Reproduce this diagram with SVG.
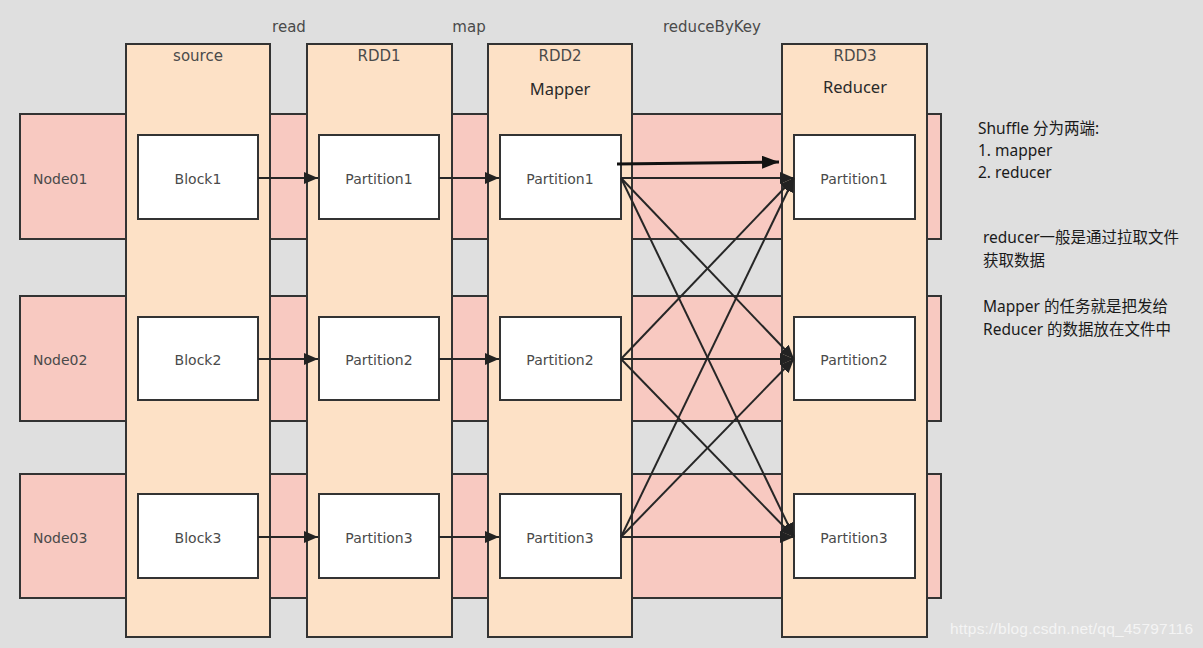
<svg xmlns="http://www.w3.org/2000/svg" width="1203" height="648" viewBox="0 0 1203 648">
<defs>
<style>
.row{fill:#f8c9c1;stroke:#333;stroke-width:2}
.col{fill:#fde1c6;stroke:#333;stroke-width:2}
.box{fill:#fff;stroke:#333;stroke-width:2}
.lbl{font-family:"DejaVu Sans",Verdana,sans-serif;font-size:14px;fill:#4a4a4a}
.ttl{font-family:"DejaVu Sans",Verdana,sans-serif;font-size:15px;fill:#4a4a4a;text-anchor:middle}
.big{font-family:"Noto Sans","Noto Sans CJK SC",sans-serif;font-size:16.5px;fill:#2a2a2a;text-anchor:middle}
.mid{text-anchor:middle}
.note{font-family:"Noto Sans","Noto Sans CJK SC",sans-serif;font-size:15.5px;fill:#1a1a1a}
.cn{stroke:#262626;stroke-width:2;fill:none;marker-end:url(#ah)}
</style>
<marker id="ah" markerUnits="userSpaceOnUse" markerWidth="15" markerHeight="12" refX="14" refY="6" orient="auto">
<path d="M0,0 L14,6 L0,12 z" fill="#222"/>
</marker>
<marker id="ahb" markerUnits="userSpaceOnUse" markerWidth="18" markerHeight="13" refX="17" refY="6.5" orient="auto">
<path d="M0,0 L17,6.5 L0,13 z" fill="#111"/>
</marker>
</defs>
<rect width="1203" height="648" fill="#dfdfdf"/>

<g id="node01"><rect class="row" x="20" y="114" width="921" height="125"/><text class="lbl" x="33" y="184" font-size="15">Node01</text></g>
<g id="node02"><rect class="row" x="20" y="296" width="921" height="125"/><text class="lbl" x="33" y="365" font-size="15">Node02</text></g>
<g id="node03"><rect class="row" x="20" y="474" width="921" height="124"/><text class="lbl" x="33" y="543" font-size="15">Node03</text></g>

<g id="source"><rect class="col" x="126" y="44" width="144" height="593"/><text class="ttl" x="198" y="61">source</text></g>
<g id="rdd1"><rect class="col" x="307" y="44" width="145" height="593"/><text class="ttl" x="379" y="61">RDD1</text></g>
<g id="rdd2"><rect class="col" x="488" y="44" width="144" height="593"/><text class="ttl" x="560" y="61">RDD2</text><text class="big" x="560" y="95">Mapper</text></g>
<g id="rdd3"><rect class="col" x="782" y="44" width="145" height="593"/><text class="ttl" x="855" y="61">RDD3</text><text class="big" x="855" y="93">Reducer</text></g>

<g id="block1"><rect class="box" x="138" y="135" width="120" height="84"/><text class="lbl mid" x="198" y="184">Block1</text></g>
<g id="block2"><rect class="box" x="138" y="317" width="120" height="83"/><text class="lbl mid" x="198" y="365">Block2</text></g>
<g id="block3"><rect class="box" x="138" y="494" width="120" height="84"/><text class="lbl mid" x="198" y="543">Block3</text></g>

<g id="rdd1-p1"><rect class="box" x="319" y="135" width="120" height="84"/><text class="lbl mid" x="379" y="184">Partition1</text></g>
<g id="rdd1-p2"><rect class="box" x="319" y="317" width="120" height="83"/><text class="lbl mid" x="379" y="365">Partition2</text></g>
<g id="rdd1-p3"><rect class="box" x="319" y="494" width="120" height="84"/><text class="lbl mid" x="379" y="543">Partition3</text></g>

<g id="rdd2-p1"><rect class="box" x="500" y="135" width="121" height="84"/><text class="lbl mid" x="560" y="184">Partition1</text></g>
<g id="rdd2-p2"><rect class="box" x="500" y="317" width="121" height="83"/><text class="lbl mid" x="560" y="365">Partition2</text></g>
<g id="rdd2-p3"><rect class="box" x="500" y="494" width="121" height="84"/><text class="lbl mid" x="560" y="543">Partition3</text></g>

<g id="rdd3-p1"><rect class="box" x="794" y="135" width="121" height="84"/><text class="lbl mid" x="854" y="184">Partition1</text></g>
<g id="rdd3-p2"><rect class="box" x="794" y="317" width="121" height="83"/><text class="lbl mid" x="854" y="365">Partition2</text></g>
<g id="rdd3-p3"><rect class="box" x="794" y="494" width="121" height="84"/><text class="lbl mid" x="854" y="543">Partition3</text></g>

<g id="connectors">
<line class="cn" x1="258" y1="178" x2="318" y2="178"/>
<line class="cn" x1="258" y1="359" x2="318" y2="359"/>
<line class="cn" x1="258" y1="537" x2="318" y2="537"/>
<line class="cn" x1="439" y1="178" x2="499" y2="178"/>
<line class="cn" x1="439" y1="359" x2="499" y2="359"/>
<line class="cn" x1="439" y1="537" x2="499" y2="537"/>
<line class="cn" x1="621" y1="178" x2="794" y2="178"/>
<line class="cn" x1="621" y1="178" x2="794" y2="359"/>
<line class="cn" x1="621" y1="178" x2="794" y2="537"/>
<line class="cn" x1="621" y1="359" x2="794" y2="178"/>
<line class="cn" x1="621" y1="359" x2="794" y2="359"/>
<line class="cn" x1="621" y1="359" x2="794" y2="537"/>
<line class="cn" x1="621" y1="537" x2="794" y2="178"/>
<line class="cn" x1="621" y1="537" x2="794" y2="359"/>
<line class="cn" x1="621" y1="537" x2="794" y2="537"/>
<line x1="617" y1="164" x2="779" y2="162" stroke="#111" stroke-width="3" marker-end="url(#ahb)"/>
</g>

<g id="labels" font-family="'DejaVu Sans',Verdana,sans-serif" font-size="15" fill="#4a4a4a" text-anchor="middle">
<text x="289" y="32">read</text>
<text x="469" y="32">map</text>
<text x="712" y="32">reduceByKey</text>
</g>

<g id="notes">
<text class="note" x="978" y="134">Shuffle 分为两端:</text>
<text class="note" x="978" y="156">1. mapper</text>
<text class="note" x="978" y="178">2. reducer</text>
<text class="note" x="983" y="243">reducer一般是通过拉取文件</text>
<text class="note" x="983" y="266">获取数据</text>
<text class="note" x="983" y="312">Mapper 的任务就是把发给</text>
<text class="note" x="983" y="335">Reducer 的数据放在文件中</text>
</g>

<text x="950" y="634" font-family="'Liberation Sans',Arial,sans-serif" font-size="15.5" fill="#f4f4f4" textLength="243">https://blog.csdn.net/qq_45797116</text>
</svg>
